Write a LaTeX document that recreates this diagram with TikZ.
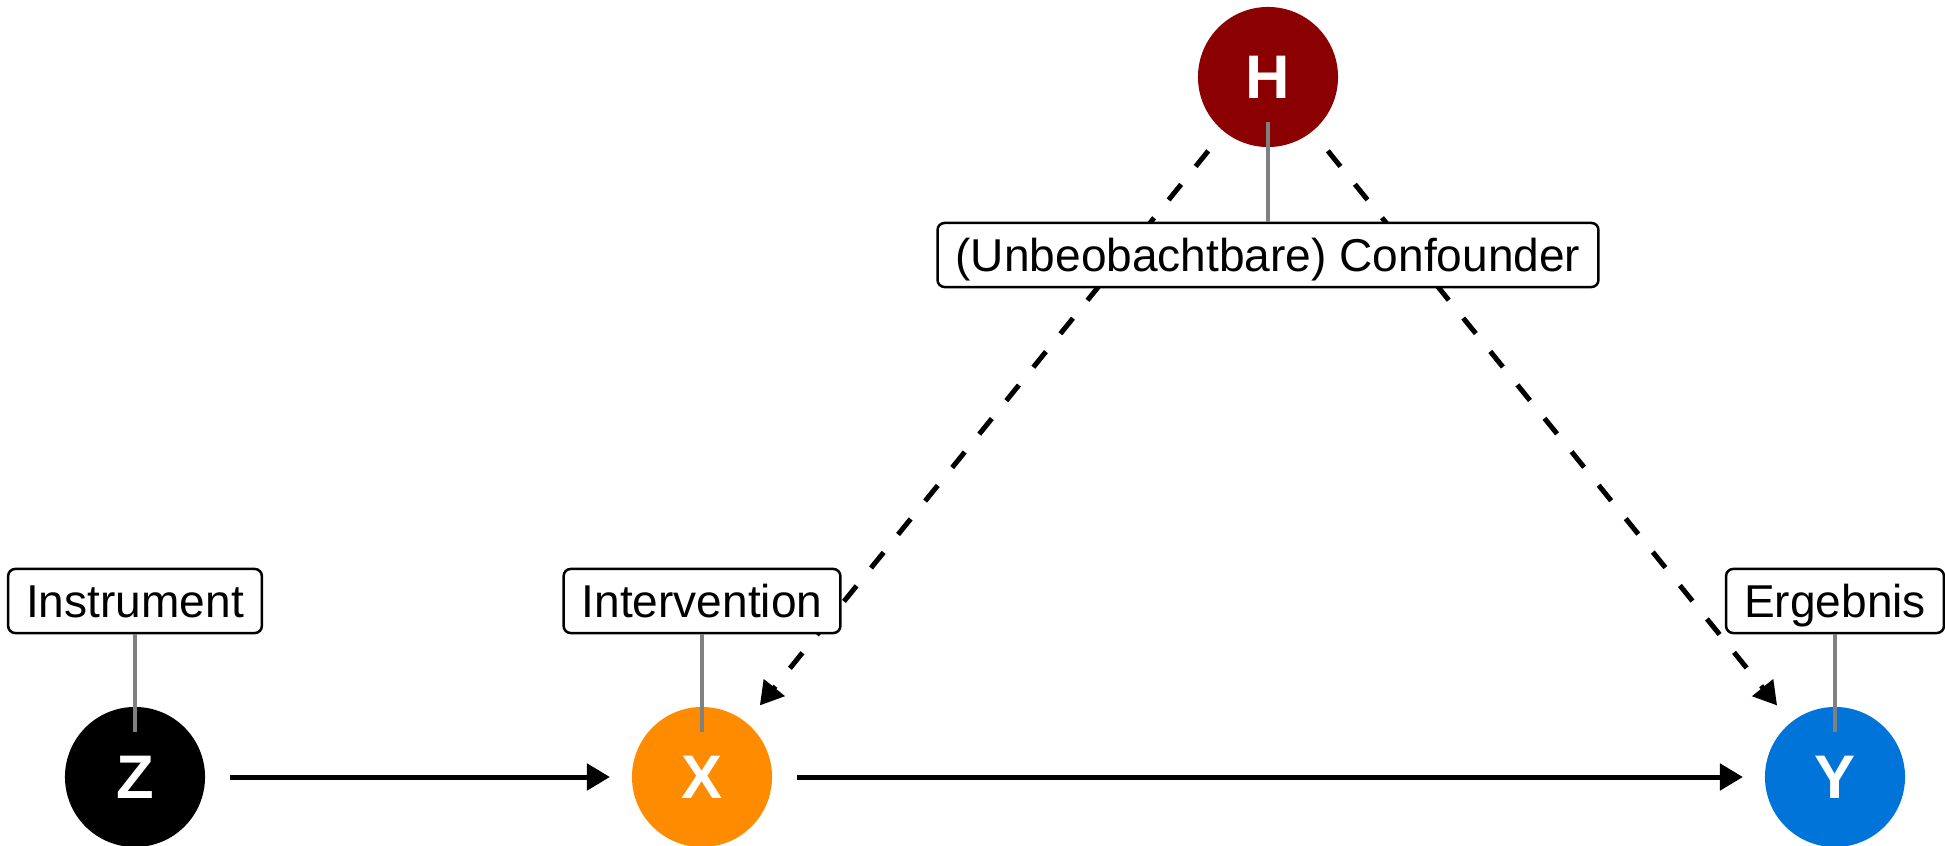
\documentclass[tikz,border=0pt]{standalone}
\usepackage{fontspec}
\setmainfont{Liberation Sans}
\usetikzlibrary{arrows.meta,calc}
\definecolor{hiddenred}{HTML}{8B0000}
\definecolor{treatorange}{HTML}{FF8C00}
\definecolor{outcomeblue}{HTML}{0074D9}

\begin{document}
\begin{tikzpicture}[x=0.01cm,y=0.01cm,>/.tip={Triangle[length=0.23cm,width=0.26cm]},
    var/.style={circle,minimum size=1.4cm,inner sep=0pt,outer sep=0pt,text=white,
      font=\fontsize{17.5}{17.5}\selectfont\bfseries},
    tag/.style={draw,rounded corners=0.07cm,line width=0.025cm,fill=white,
      inner xsep=0.18cm,inner ysep=0.155cm,text height=0.33cm,text depth=0pt,
      font=\fontsize{13.1}{13.1}\selectfont},
    leader/.style={draw=gray,line width=0.04cm},
    edge/.style={->,line width=0.05cm,shorten <=0.25cm,shorten >=0.22cm},
    hidden/.style={edge,dash pattern=on 0.2cm off 0.23cm}]
    \useasboundingbox (0,0) rectangle (1945,845);
    % The variables
    \node[var,fill=black] (Z) at (135,68) {Z};
    \node[var,fill=treatorange] (X) at (702,68) {X};
    \node[var,fill=outcomeblue] (Y) at (1835,68) {Y};
    \node[var,fill=hiddenred] (H) at (1268,768) {H};
    % The paths
    \draw[edge] (Z) -- (X);
    \draw[edge] (X) -- (Y);
    \draw[hidden] (H) -- (X);
    \draw[hidden] (H) -- (Y);
    % The labels
    \node[tag] (lZ) at (135,244) {Instrument};
    \node[tag] (lX) at (702,244) {Intervention};
    \node[tag] (lY) at (1835,244) {Ergebnis};
    \node[tag] (lH) at (1268,590) {(Unbeobachtbare) Confounder};
    \draw[leader] (lZ.south) -- ([yshift=0.45cm]Z.center);
    \draw[leader] (lX.south) -- ([yshift=0.45cm]X.center);
    \draw[leader] (lY.south) -- ([yshift=0.45cm]Y.center);
    \draw[leader] (lH.north) -- ([yshift=-0.45cm]H.center);
\end{tikzpicture}
\end{document}
